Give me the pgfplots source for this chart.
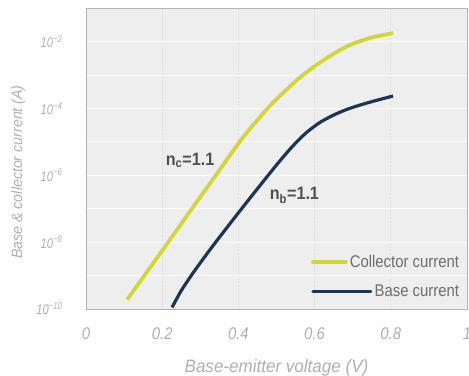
\documentclass[border=0pt]{standalone}
\usepackage{pgfplots}
\pgfplotsset{compat=1.18}
\usepackage{fontspec}
\setmainfont{Liberation Sans}
\newfontfamily\cond[FakeStretch=0.8]{Liberation Sans}
\newfontfamily\condl[FakeStretch=0.95]{Liberation Sans}
\newfontfamily\condb[FakeStretch=0.88]{Liberation Sans}
\newfontfamily\conda[FakeStretch=0.9]{Liberation Sans}
\definecolor{colyel}{RGB}{212,213,60}
\definecolor{colnavy}{RGB}{30,52,82}
\definecolor{bggray}{RGB}{238,238,238}
\definecolor{ticktxt}{RGB}{175,175,175}
\definecolor{legtxt}{RGB}{110,110,110}
\definecolor{anntxt}{RGB}{80,80,80}
\begin{document}
\begin{tikzpicture}
\begin{axis}[
  scale only axis,
  width=381bp, height=301bp,
  xmin=0, xmax=1,
  ymode=log,
  ymin=1e-10, ymax=1e-1,
  axis background/.style={fill=bggray},
  axis line style={draw=black!30, line width=0.8pt},
  major tick length=0pt, minor tick length=0pt,
  xtick={0,0.2,0.4,0.6,0.8,1},
  xticklabels={0,0.2,0.4,0.6,0.8,1},
  ytick={1e-10,1e-8,1e-6,1e-4,1e-2},
  yticklabels={10\textsuperscript{−10},10\textsuperscript{−8},10\textsuperscript{−6},10\textsuperscript{−4},10\textsuperscript{−2}},
  minor ytick={1e-9,1e-7,1e-5,1e-3},
  xticklabel style={font=\condb\itshape\fontsize{17}{17}\selectfont, text=ticktxt, yshift=-15bp},
  yticklabel style={font=\cond\itshape\fontsize{14}{14}\selectfont, text=ticktxt, xshift=-20bp},
  xmajorgrids, ymajorgrids, yminorgrids,
  x grid style={black!12, densely dotted, line width=0.8pt},
  y grid style={white, line width=0.7pt},
  minor y grid style={white, line width=0.7pt},
  xlabel={Base-emitter voltage (V)},
  ylabel={Base \& collector current (A)},
  xlabel style={font=\condl\itshape\fontsize{18}{18}\selectfont, text=ticktxt, yshift=-13bp},
  ylabel style={font=\condl\itshape\fontsize{15}{15}\selectfont, text=ticktxt,
    at={(axis description cs:-0.178,0.455)}, anchor=center},
  legend style={draw=none, fill=none, at={(0.985,0.03)}, anchor=south east,
    font=\condb\fontsize{17}{17}\selectfont, text=legtxt, row sep=12bp,
    legend cell align=right, inner sep=0pt},
  legend plot pos=left,
]
\addplot[colyel, line width=3.8pt, smooth, tension=0.4,
  legend image code/.code={\draw[colyel, line width=3.8pt, line cap=round] (0bp,0bp) -- (33bp,0bp);}] coordinates {
 (0.108,1.91e-10) (0.15,8.91e-10) (0.194,4.47e-9) (0.24,2.45e-8) (0.281,1.12e-7)
 (0.352,1.51e-6) (0.412,1.35e-5) (0.483,1.20e-4) (0.554,7.08e-4) (0.60,1.82e-3)
 (0.648,4.17e-3) (0.69,7.59e-3) (0.738,1.20e-2) (0.77,1.48e-2) (0.806,1.78e-2)
};
\addlegendentry{Collector current}
\addplot[colnavy, line width=3.2pt, smooth, tension=0.4,
  legend image code/.code={\path (0bp,0bp) -- (33bp,0bp);\draw[overlay, colnavy, line width=3.2pt, line cap=round] (0bp,0bp) -- (58bp,0bp);}] coordinates {
 (0.226,1.12e-10) (0.25,3.55e-10) (0.281,1.20e-9) (0.32,4.90e-9) (0.352,1.48e-8)
 (0.39,5.37e-8) (0.43,2.04e-7) (0.465,6.46e-7) (0.501,2.09e-6) (0.53,5.13e-6)
 (0.554,1.02e-5) (0.58,1.95e-5) (0.614,3.80e-5) (0.65,6.31e-5) (0.685,9.33e-5)
 (0.72,1.26e-4) (0.753,1.62e-4) (0.806,2.34e-4)
};
\addlegendentry{Base current}
\node[font=\conda\bfseries\fontsize{18}{18}\selectfont, text=anntxt] at (axis cs:0.273,2.8e-6) {n\textsubscript{c}=1.1};
\node[font=\conda\bfseries\fontsize{18}{18}\selectfont, text=anntxt] at (axis cs:0.547,2.5e-7) {n\textsubscript{b}=1.1};
\end{axis}
\pgfresetboundingbox
\path (current axis.south west) ++(-86bp,-67bp) rectangle ++(469bp,376bp);
\end{tikzpicture}
\end{document}
